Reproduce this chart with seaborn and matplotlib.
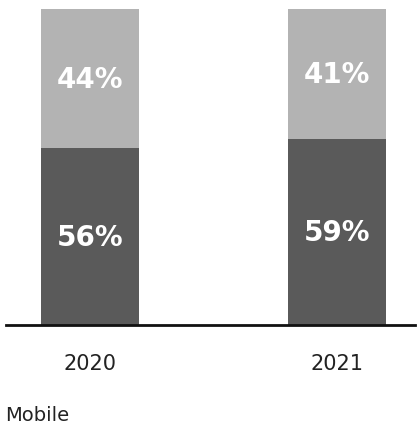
import matplotlib
matplotlib.use("Agg")
import matplotlib.pyplot as plt
import seaborn as sns
import pandas as pd

sns.set_theme(style="white")
plt.rcParams['font.family'] = ['DejaVu Sans']

years = ['2020', '2021']
mobile = [56, 59]
other = [44, 41]

df = pd.DataFrame({'Year': years, 'Mobile': mobile, 'Other': other})
df['Total'] = df['Mobile'] + df['Other']

fig = plt.figure(figsize=(4.19, 4.27), dpi=100)
ax = fig.add_axes([6 / 419, 101 / 427, 409 / 419, 316 / 427])

sns.barplot(data=df, x='Year', y='Total', color='#b3b3b3', width=0.4,
            saturation=1, linewidth=0, ax=ax)
sns.barplot(data=df, x='Year', y='Mobile', color='#5a5a5a', width=0.4,
            saturation=1, linewidth=0, ax=ax)

for i, (m, o) in enumerate(zip(mobile, other)):
    ax.text(i, m / 2, f'{m}%', ha='center', va='center', color='white',
            fontsize=20, fontweight='bold')
    ax.text(i, m + o / 2, f'{o}%', ha='center', va='center', color='white',
            fontsize=20, fontweight='bold')

ax.set_xlim(-0.34, 1.316)
ax.set_ylim(0, 100)
ax.set_xlabel('')
ax.set_ylabel('')
ax.set_yticks([])
ax.tick_params(axis='x', length=0, pad=20, labelsize=15, labelcolor='#222222')
for s in ['top', 'right', 'left']:
    ax.spines[s].set_visible(False)
ax.spines['bottom'].set_color('#111111')
ax.spines['bottom'].set_linewidth(2)

fig.text(5 / 419, 1 - 421 / 427, 'Mobile', fontsize=14, color='#222222',
         ha='left', va='baseline')

plt.savefig('out.png', dpi=100)
